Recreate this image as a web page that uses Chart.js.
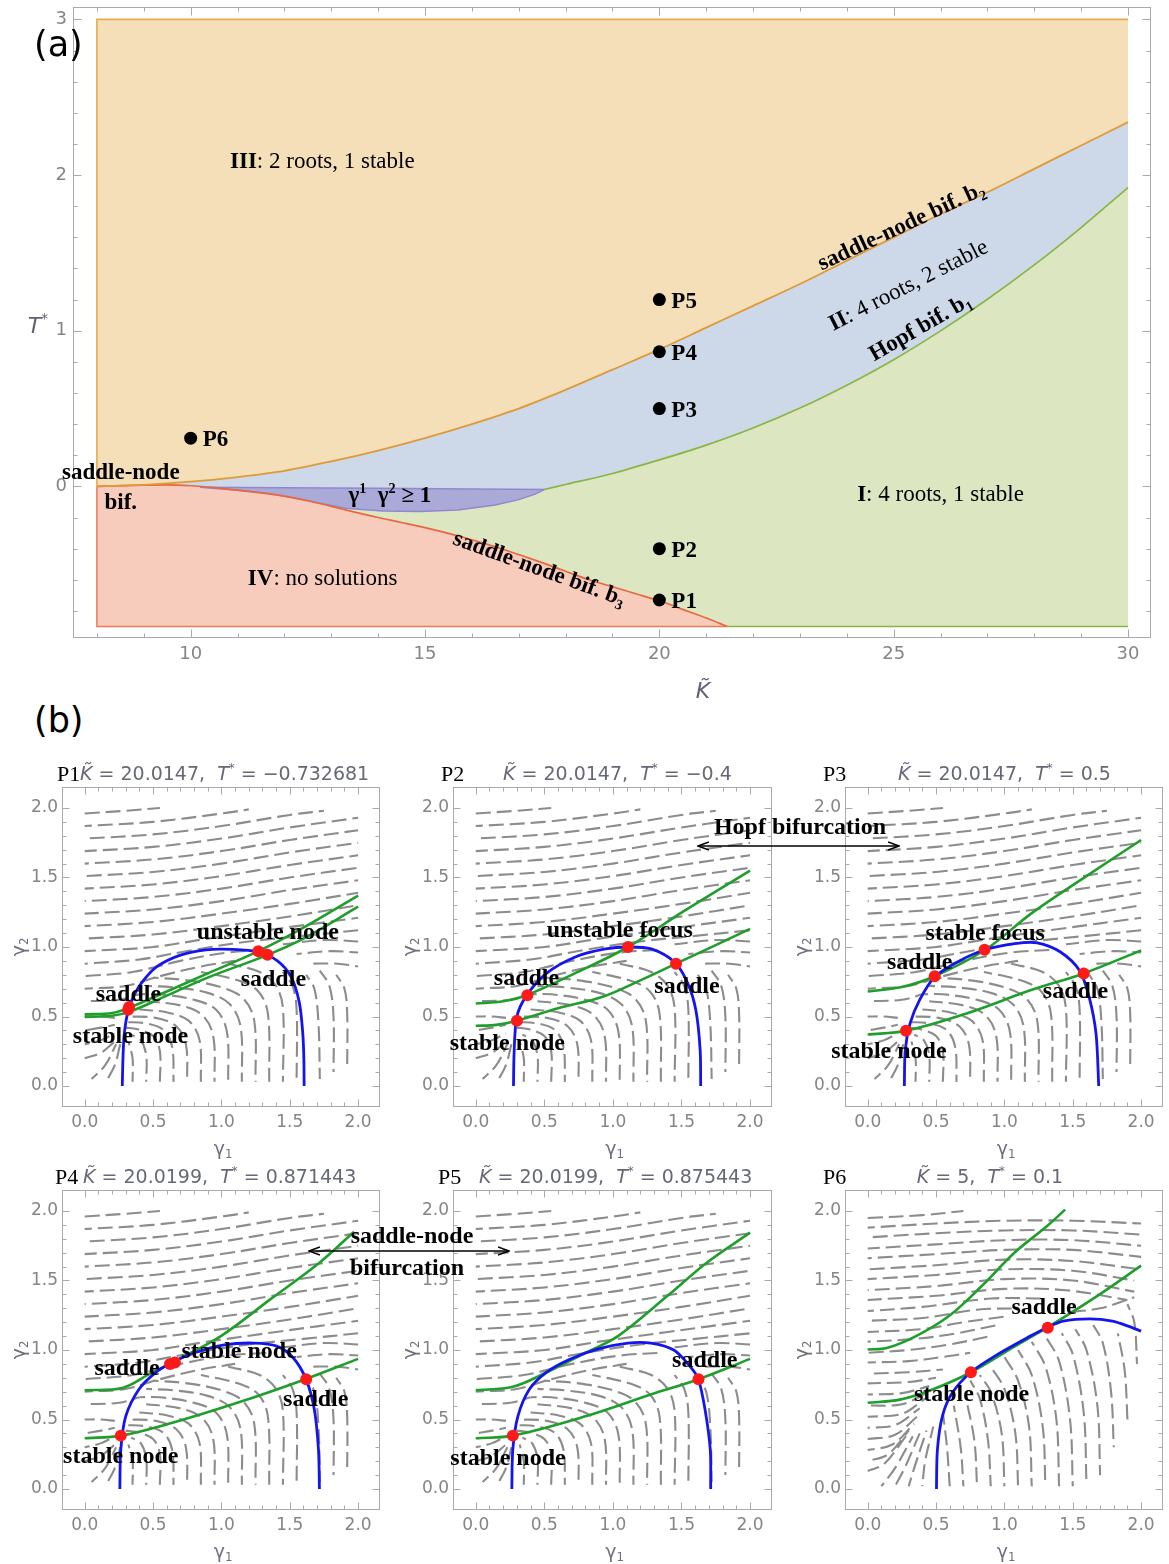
<!DOCTYPE html>
<html><head><meta charset="utf-8">
<script src="https://cdn.jsdelivr.net/npm/chart.js@4/dist/chart.umd.min.js"></script>
<style>
html,body{margin:0;padding:0;background:#fff}
body{width:1169px;height:1564px;position:relative;overflow:hidden}
canvas{position:absolute;display:block}
.plab{position:absolute;font-family:'DejaVu Sans';font-size:35px;color:#000;line-height:1}
</style></head>
<body>
<canvas id="cA"></canvas>
<div class="plab" style="left:34px;top:27px">(a)</div>
<div class="plab" style="left:34px;top:703px">(b)</div>
<canvas id="c1"></canvas><canvas id="c2"></canvas><canvas id="c3"></canvas>
<canvas id="c4"></canvas><canvas id="c5"></canvas><canvas id="c6"></canvas>
<svg width="1169" height="1564" style="position:absolute;left:0;top:0;pointer-events:none">
<defs><marker id="ah" markerWidth="12" markerHeight="10" refX="11" refY="5" orient="auto-start-reverse" markerUnits="userSpaceOnUse"><path d="M0,1 L11,5 L0,9" fill="none" stroke="#000" stroke-width="1.4"/></marker></defs>
<line x1="698" y1="846" x2="899" y2="846" stroke="#000" stroke-width="1.5" marker-start="url(#ah)" marker-end="url(#ah)"/>
<text x="800" y="834" text-anchor="middle" font-family="Liberation Serif" font-weight="bold" font-size="24">Hopf bifurcation</text>
<line x1="309" y1="1251" x2="509" y2="1251" stroke="#000" stroke-width="1.5" marker-start="url(#ah)" marker-end="url(#ah)"/>
<text x="412" y="1243" text-anchor="middle" font-family="Liberation Serif" font-weight="bold" font-size="24">saddle-node</text>
<text x="407" y="1275" text-anchor="middle" font-family="Liberation Serif" font-weight="bold" font-size="24">bifurcation</text>
</svg>
<script>
// ================= Panel (a) data =================
const K_MIN = 8, K_MAX = 30, T_TOP = 3, T_BOTTOM = -0.9;
const kTicks = [10, 15, 20, 25, 30];
const tTicks = [0, 1, 2, 3];
// saddle-node bifurcation b2 (upper)
const b2K = [8, 9, 10, 11, 12, 13, 14, 15, 16, 17, 18, 19, 20, 21, 22, 23, 24, 25, 26, 27, 28, 29, 30];
const b2T = [0, 0.01, 0.03, 0.06, 0.1, 0.16, 0.23, 0.31, 0.4, 0.5, 0.62, 0.75, 0.88, 1.02, 1.16, 1.3, 1.45, 1.6, 1.75, 1.89, 2.04, 2.19, 2.34];
// saddle-node bifurcation b3 (lower)
const b3K = [8, 9, 9.5, 10, 10.5, 11, 11.5, 12, 12.5, 13, 13.5, 14, 14.5, 15, 15.5, 16, 16.5, 17, 17.5, 18, 18.5, 19, 19.5, 20, 20.5, 21, 21.45];
const b3T = [0, 0.008, 0.01, 0.004, -0.008, -0.024, -0.042, -0.062, -0.092, -0.128, -0.165, -0.2, -0.232, -0.265, -0.302, -0.343, -0.388, -0.438, -0.49, -0.545, -0.6, -0.645, -0.69, -0.735, -0.79, -0.845, -0.9];
// Hopf bifurcation b1
const b1K = [17.55, 18, 19, 20, 21, 22, 23, 24, 25, 26, 27, 28, 29, 30];
const b1T = [-0.02, 0.012, 0.083, 0.17, 0.265, 0.375, 0.503, 0.65, 0.814, 0.999, 1.202, 1.423, 1.663, 1.92];
// gamma1*gamma2 >= 1 region
const gTopK = [10.2, 12, 14, 16, 17.55];
const gTopT = [-0.005, -0.008, -0.012, -0.016, -0.02];
const gBotK = [10.2, 11, 11.6, 12.4, 13.3, 14.1, 14.9, 15.7, 16.5, 17.0, 17.35, 17.55];
const gBotT = [-0.005, -0.025, -0.043, -0.085, -0.14, -0.158, -0.162, -0.152, -0.12, -0.085, -0.05, -0.02];
// marked parameter points
const pointNames = ['P1', 'P2', 'P3', 'P4', 'P5', 'P6'];
const pointK = [20, 20, 20, 20, 20, 10];
const pointT = [-0.73, -0.4, 0.5, 0.865, 1.2, 0.31];

// ================= Panel (b) data =================
const gTicks = [0, 0.5, 1, 1.5, 2];
const subNames = ['P1', 'P2', 'P3', 'P4', 'P5', 'P6'];
const subK = ['20.0147', '20.0147', '20.0147', '20.0199', '20.0199', '5'];
const subT = ['\u22120.732681', '\u22120.4', '0.5', '0.871443', '0.875443', '0.1'];

const blueP1 = [[0.275,0],[0.28,0.2],[0.29,0.38],[0.32,0.55],[0.37,0.67],[0.43,0.76],[0.53,0.86],[0.695,0.94],[0.886,0.98],[1.08,0.983],[1.27,0.964],[1.41,0.9],[1.51,0.785],[1.57,0.6],[1.595,0.38],[1.603,0.2],[1.605,0]];
const greenAP1 = [[0,0.515],[0.2,0.525],[0.33,0.565],[0.6,0.68],[0.9,0.81],[1.27,0.97],[1.6,1.14],[2.0,1.37]];
const greenBP1 = [[0,0.497],[0.2,0.505],[0.33,0.535],[0.6,0.65],[0.9,0.78],[1.33,0.94],[1.6,1.06],[2.0,1.29]];
const redP1 = [[0.318,0.548],[0.325,0.568],[1.27,0.97],[1.337,0.945]];

const blueP2 = [[0.275,0],[0.28,0.25],[0.3,0.5],[0.37,0.65],[0.515,0.81],[0.73,0.93],[0.946,0.986],[1.11,1.0],[1.28,0.986],[1.45,0.89],[1.545,0.74],[1.605,0.545],[1.636,0.26],[1.64,0]];
const greenAP2 = [[0,0.593],[0.2,0.61],[0.37,0.653],[0.7,0.8],[1.11,1.0],[1.52,1.26],[2.0,1.55]];
const greenBP2 = [[0,0.433],[0.15,0.44],[0.3,0.47],[0.6,0.56],[0.92,0.64],[1.2,0.76],[1.46,0.88],[2.0,1.13]];
const redP2 = [[0.3,0.47],[0.376,0.653],[1.11,1.0],[1.46,0.88]];

const blueP3 = [[0.268,0],[0.275,0.26],[0.31,0.45],[0.38,0.62],[0.49,0.785],[0.67,0.9],[0.86,0.98],[1.075,1.024],[1.24,1.03],[1.41,0.964],[1.55,0.83],[1.62,0.64],[1.67,0.378],[1.69,0]];
const greenAP3 = [[0,0.68],[0.24,0.71],[0.49,0.79],[0.86,0.98],[1.195,1.24],[1.6,1.51],[2.0,1.77]];
const greenBP3 = [[0,0.37],[0.28,0.397],[0.717,0.52],[1.195,0.69],[1.58,0.81],[2.0,0.976]];
const redP3 = [[0.28,0.397],[0.49,0.79],[0.855,0.98],[1.58,0.81]];

const blueP4 = [[0.257,0],[0.264,0.283],[0.3,0.523],[0.396,0.716],[0.516,0.836],[0.636,0.908],[0.804,0.98],[1.02,1.037],[1.236,1.05],[1.405,1.028],[1.525,0.944],[1.62,0.787],[1.68,0.57],[1.71,0.283],[1.717,0]];
const greenAP4 = [[0,0.711],[0.276,0.727],[0.468,0.824],[0.636,0.908],[0.996,1.1],[1.357,1.364],[1.717,1.628],[1.97,1.85]];
const greenBP4 = [[0,0.365],[0.264,0.384],[0.636,0.475],[1.116,0.62],[1.62,0.792],[2.0,0.936]];
const redP4 = [[0.264,0.384],[0.624,0.9],[0.66,0.91],[1.62,0.79]];

const blueP5 = [[0.263,0],[0.27,0.283],[0.307,0.523],[0.39,0.716],[0.51,0.836],[0.678,0.93],[0.893,1.008],[1.11,1.05],[1.277,1.05],[1.444,1.0],[1.564,0.88],[1.624,0.787],[1.672,0.57],[1.71,0.283],[1.713,0]];
const greenAP5 = [[0,0.711],[0.27,0.735],[0.51,0.836],[0.8,0.98],[1.037,1.1],[1.396,1.388],[1.684,1.628],[2.0,1.844]];
const greenBP5 = [[0,0.365],[0.27,0.384],[0.8,0.523],[1.277,0.68],[1.624,0.79],[2.0,0.936]];
const redP5 = [[0.27,0.384],[1.624,0.79]];

const blueP6 = [[0.503,0],[0.51,0.283],[0.546,0.523],[0.618,0.69],[0.755,0.84],[0.953,0.97],[1.19,1.1],[1.317,1.164],[1.43,1.208],[1.624,1.224],[1.79,1.208],[1.91,1.17],[2.0,1.136]];
const greenAP6 = [[0,1.004],[0.139,1.014],[0.354,1.1],[0.594,1.244],[0.834,1.46],[1.073,1.7],[1.31,1.89],[1.444,2.01]];
const greenBP6 = [[0,0.62],[0.235,0.643],[0.474,0.716],[0.755,0.84],[1.073,1.025],[1.317,1.164],[1.672,1.384],[2.0,1.607]];
const redP6 = [[0.755,0.84],[1.317,1.16]];

const streamsA = [
 [[0,1.96],[0.3,1.98],[0.55,2.0]],
 [[0,1.87],[0.5,1.9],[1.0,1.96],[1.2,1.99]],
 [[0,1.78],[0.5,1.81],[1.0,1.87],[1.5,1.95],[1.75,1.98]],
 [[0,1.69],[0.5,1.72],[1.0,1.78],[1.5,1.86],[2.0,1.93]],
 [[0,1.60],[0.5,1.63],[1.0,1.69],[1.5,1.77],[2.0,1.84]],
 [[0,1.51],[0.5,1.54],[1.0,1.6],[1.5,1.68],[2.0,1.75]],
 [[0,1.42],[0.5,1.45],[1.0,1.51],[1.5,1.59],[2.0,1.66]],
 [[0,1.33],[0.5,1.36],[1.0,1.42],[1.5,1.5],[2.0,1.57]],
 [[0,1.24],[0.5,1.27],[1.0,1.33],[1.5,1.41],[2.0,1.48]],
 [[0,1.15],[0.5,1.18],[1.0,1.24],[1.5,1.31],[2.0,1.39]],
 [[0,1.06],[0.5,1.09],[1.0,1.15],[1.5,1.22],[2.0,1.3]],
 [[0,0.97],[0.5,1.0],[0.9,1.06],[1.4,1.13],[2.0,1.21]],
 [[0,0.88],[0.4,0.91],[0.8,0.98],[1.2,1.04],[1.6,1.08],[2.0,1.12]],
 [[0,0.79],[0.35,0.82],[0.7,0.9],[1.05,0.96],[1.35,0.98]],
 [[0,0.70],[0.3,0.72],[0.55,0.79],[0.85,0.86],[1.1,0.9]],
 [[0,0.61],[0.25,0.62],[0.4,0.66]],
 [[1.45,1.02],[1.75,1.05],[2.0,1.04]],
 [[1.55,0.95],[1.8,0.97],[2.0,0.96]],
 [[1.65,0.88],[1.85,0.88],[2.0,0.86]],
 [[0.35,0.03],[0.35,0.2],[0.32,0.32]],
 [[0.45,0.03],[0.45,0.22],[0.41,0.33],[0.34,0.37]],
 [[0.55,0.03],[0.55,0.25],[0.5,0.36],[0.38,0.41],[0.3,0.42]],
 [[0.65,0.03],[0.64,0.28],[0.58,0.4],[0.45,0.45],[0.3,0.46]],
 [[0.75,0.03],[0.74,0.3],[0.67,0.43],[0.52,0.49],[0.32,0.5]],
 [[0.85,0.03],[0.84,0.33],[0.76,0.47],[0.6,0.53],[0.4,0.55]],
 [[0.95,0.03],[0.94,0.36],[0.86,0.51],[0.7,0.58],[0.45,0.61]],
 [[1.05,0.03],[1.04,0.39],[0.96,0.55],[0.8,0.62],[0.55,0.66],[0.4,0.66]],
 [[1.15,0.03],[1.14,0.43],[1.06,0.59],[0.9,0.67],[0.65,0.71],[0.45,0.72]],
 [[1.25,0.03],[1.24,0.47],[1.16,0.63],[1.0,0.71],[0.75,0.76],[0.5,0.78]],
 [[1.35,0.03],[1.34,0.52],[1.27,0.68],[1.12,0.76],[0.85,0.82]],
 [[1.45,0.03],[1.45,0.56],[1.4,0.72],[1.28,0.82],[1.05,0.88]],
 [[1.55,0.03],[1.55,0.55],[1.52,0.72],[1.45,0.82]],
 [[1.72,0.05],[1.71,0.45],[1.68,0.7],[1.62,0.8]],
 [[1.82,0.1],[1.82,0.5],[1.79,0.72],[1.72,0.83]],
 [[1.92,0.15],[1.92,0.52],[1.9,0.7],[1.84,0.8]],
 [[0.05,0.05],[0.15,0.15],[0.23,0.3]],
 [[0.15,0.02],[0.22,0.15],[0.26,0.3]],
 [[0,0.2],[0.12,0.24],[0.22,0.32]],
 [[0,0.3],[0.12,0.33],[0.22,0.38]],
 [[0,0.4],[0.12,0.42],[0.22,0.44]],
 [[0,0.5],[0.12,0.5],[0.22,0.49]]
];
const streamsB = [
 [[0,1.95],[0.4,1.97],[0.7,2.0]],
 [[0,1.88],[0.5,1.91],[1.0,1.93],[1.5,1.93],[2.0,1.91]],
 [[0,1.81],[0.5,1.84],[1.0,1.86],[1.5,1.86],[2.0,1.83]],
 [[0,1.73],[0.5,1.76],[1.0,1.79],[1.5,1.79],[2.0,1.75]],
 [[0,1.66],[0.5,1.69],[1.0,1.72],[1.5,1.72],[2.0,1.67]],
 [[0,1.58],[0.5,1.61],[1.0,1.65],[1.5,1.64],[2.0,1.58]],
 [[0,1.51],[0.5,1.54],[1.0,1.58],[1.5,1.57],[1.95,1.5]],
 [[0,1.43],[0.5,1.46],[1.0,1.51],[1.5,1.5],[1.95,1.42]],
 [[0,1.36],[0.5,1.39],[1.0,1.44],[1.45,1.43],[1.9,1.36]],
 [[0,1.28],[0.4,1.31],[0.9,1.37],[1.3,1.37]],
 [[0,1.21],[0.4,1.23],[0.8,1.29],[1.1,1.3]],
 [[0,1.13],[0.4,1.15],[0.7,1.2],[1.0,1.24]],
 [[0,1.06],[0.35,1.08],[0.65,1.12],[0.95,1.18]],
 [[0,0.98],[0.3,1.0],[0.6,1.04],[0.9,1.1]],
 [[0,0.91],[0.3,0.92],[0.55,0.95],[0.75,0.98]],
 [[0,0.83],[0.3,0.84],[0.55,0.86]],
 [[0,0.76],[0.3,0.77],[0.5,0.8]],
 [[0,0.68],[0.25,0.69],[0.45,0.74]],
 [[0,0.6],[0.25,0.61],[0.45,0.7]],
 [[0,0.52],[0.25,0.54],[0.42,0.65]],
 [[0,0.44],[0.2,0.46],[0.38,0.58]],
 [[0,0.36],[0.2,0.39],[0.36,0.52]],
 [[0,0.28],[0.18,0.32],[0.34,0.47]],
 [[0,0.2],[0.15,0.25],[0.3,0.42]],
 [[0,0.13],[0.12,0.18],[0.28,0.38]],
 [[0.1,0.02],[0.2,0.15],[0.33,0.38]],
 [[0.2,0.02],[0.27,0.15],[0.38,0.4]],
 [[0.3,0.02],[0.34,0.15],[0.43,0.42]],
 [[0.4,0.02],[0.42,0.2],[0.48,0.45]],
 [[0.6,0.02],[0.58,0.3],[0.55,0.55]],
 [[0.7,0.02],[0.68,0.3],[0.63,0.6]],
 [[0.8,0.02],[0.78,0.35],[0.72,0.65]],
 [[0.9,0.02],[0.88,0.35],[0.82,0.65],[0.75,0.78]],
 [[1.0,0.02],[0.98,0.4],[0.9,0.7],[0.82,0.82]],
 [[1.1,0.02],[1.08,0.4],[1.0,0.72],[0.9,0.88]],
 [[1.2,0.02],[1.18,0.45],[1.1,0.78],[1.0,0.95]],
 [[1.3,0.02],[1.28,0.45],[1.2,0.82],[1.1,1.0]],
 [[1.4,0.02],[1.38,0.5],[1.3,0.88],[1.2,1.06]],
 [[1.5,0.02],[1.48,0.5],[1.4,0.92],[1.3,1.1]],
 [[1.6,0.05],[1.58,0.55],[1.5,0.97],[1.42,1.12]],
 [[1.7,0.1],[1.68,0.6],[1.6,1.0],[1.52,1.15]],
 [[1.8,0.3],[1.78,0.7],[1.72,1.05],[1.65,1.18]],
 [[1.9,0.5],[1.88,0.85],[1.83,1.12]],
 [[1.97,0.9],[1.95,1.2],[1.9,1.33]],
 [[1.45,1.27],[1.7,1.3],[1.95,1.38]]
];

// node-type labels [text, gamma1, gamma2]
const labelsP1 = [['unstable node',1.34,1.12],['saddle',1.38,0.78],['saddle',0.32,0.67],['stable node',0.335,0.37]];
const labelsP2 = [['unstable focus',1.05,1.13],['saddle',0.37,0.79],['saddle',1.54,0.73],['stable node',0.23,0.32]];
const labelsP3 = [['stable focus',0.86,1.11],['saddle',0.38,0.9],['saddle',1.52,0.69],['stable node',0.155,0.26]];
const labelsP4 = [['saddle',0.31,0.88],['stable node',1.13,1.0],['saddle',1.69,0.655],['stable node',0.264,0.25]];
const labelsP5 = [['saddle',1.67,0.936],['stable node',0.235,0.235]];
const labelsP6 = [['saddle',1.29,1.317],['stable node',0.76,0.695]];

const BLUE = [blueP1, blueP2, blueP3, blueP4, blueP5, blueP6];
const GREENA = [greenAP1, greenAP2, greenAP3, greenAP4, greenAP5, greenAP6];
const GREENB = [greenBP1, greenBP2, greenBP3, greenBP4, greenBP5, greenBP6];
const RED = [redP1, redP2, redP3, redP4, redP5, redP6];
const LABELS = [labelsP1, labelsP2, labelsP3, labelsP4, labelsP5, labelsP6];
const STREAMS = [streamsA, streamsA, streamsA, streamsA, streamsA, streamsB];

// ================= layout (pixels) =================
const FRAMES = [[62,787,384,1107],[453,787,776,1107],[845,787,1167,1107],[62,1190,384,1510],[453,1190,776,1510],[845,1190,1167,1510]];
const TITLE_POS = [[-5,18,'left'],[-12,50,'left'],[-22,53,'left'],[-7,21,'left'],[-15,26,'left'],[-22,145,'center']];

// ================= helpers =================
const SERIF = 'Liberation Serif', SANS = 'DejaVu Sans';
function runFont(r, d) {
  const size = (r.s || d.s) * ((r.sup || r.sub) ? 0.62 : 1);
  return (r.i ? 'italic ' : '') + (r.b ? 'bold ' : '') + size + 'px "' + (r.f || d.f) + '"';
}
function drawRuns(ctx, x, y, runs, d) {
  ctx.save();
  ctx.translate(x, y);
  if (d.rot) ctx.rotate(d.rot * Math.PI / 180);
  let total = 0;
  const ws = runs.map(r => { ctx.font = runFont(r, d); const w = ctx.measureText(r.t).width; total += w; return w; });
  let cx = d.align === 'center' ? -total / 2 : d.align === 'right' ? -total : 0;
  ctx.textBaseline = 'alphabetic';
  runs.forEach((r, i) => {
    ctx.font = runFont(r, d);
    ctx.fillStyle = r.c || d.c;
    const size = r.s || d.s;
    let dy = size * 0.35;
    if (r.sup) dy -= size * 0.42;
    if (r.sub) dy += size * 0.2;
    ctx.fillText(r.t, cx, dy);
    cx += ws[i];
  });
  ctx.restore();
}
function notesPlugin(items) {
  return { id: 'notes', afterDraw(chart) {
    const ctx = chart.ctx, a = chart.chartArea;
    items.forEach(it => {
      let x, y;
      if (it.mode === 'data') { x = chart.scales.x.getPixelForValue(it.x); y = chart.scales.y.getPixelForValue(it.y); }
      else if (it.mode === 'area') { x = a.left + it.x; y = a.top + it.y; }
      else { x = it.x; y = it.y; }
      drawRuns(ctx, x + (it.dx || 0), y + (it.dy || 0), it.runs, { s: it.s, f: it.f, c: it.c || '#000', align: it.align || 'center', rot: it.rot || 0 });
    });
  } };
}
function framePlugin(xMaj, xMin, yMaj, yMin, majLen, minLen) {
  return { id: 'frame', afterDatasetsDraw(chart) {
    const {ctx, chartArea: a, scales: {x, y}} = chart;
    ctx.save();
    ctx.strokeStyle = '#a9a9a9'; ctx.lineWidth = 1;
    const L = Math.round(a.left) + 0.5, R = Math.round(a.right) - 0.5, T = Math.round(a.top) + 0.5, B = Math.round(a.bottom) - 0.5;
    ctx.strokeRect(L, T, R - L, B - T);
    ctx.beginPath();
    const xt = (vals, len) => vals.forEach(v => { const p = Math.round(x.getPixelForValue(v)) + 0.5; ctx.moveTo(p, B); ctx.lineTo(p, B - len); ctx.moveTo(p, T); ctx.lineTo(p, T + len); });
    const yt = (vals, len) => vals.forEach(v => { const p = Math.round(y.getPixelForValue(v)) + 0.5; ctx.moveTo(L, p); ctx.lineTo(L + len, p); ctx.moveTo(R, p); ctx.lineTo(R - len, p); });
    xt(xMaj, majLen); xt(xMin, minLen); yt(yMaj, majLen); yt(yMin, minLen);
    ctx.stroke();
    ctx.restore();
  } };
}
const noPad = s => { s.paddingTop = 0; s.paddingBottom = 0; s.paddingLeft = 0; s.paddingRight = 0; };
const xy = (ks, ts) => ks.map((k, i) => ({ x: k, y: ts[i] }));
const pairs = arr => arr.map(p => ({ x: p[0], y: p[1] }));
const rev = a => a.slice().reverse();

// ================= Panel (a) =================
(function () {
  const cv = document.getElementById('cA');
  cv.width = 1169; cv.height = 700; cv.style.left = '0px'; cv.style.top = '0px';
  const b2 = xy(b2K, b2T), b3 = xy(b3K, b3T), b1 = xy(b1K, b1T), gTop = xy(gTopK, gTopT), gBot = xy(gBotK, gBotT);
  const b3Left = b3.filter(p => p.x <= gTopK[0]);
  const b3Right = b3.filter(p => p.x >= 13.5);
  const gBotRight = gBot.filter(p => p.x >= 13.3);
  const polyIII = b2.concat([{ x: K_MAX, y: T_TOP }, { x: K_MIN, y: T_TOP }]);
  const polyII = b2.concat(rev(b1), rev(gTop), rev(b3Left));
  const polyG = gTop.concat(rev(gBot));
  const polyI = gBotRight.concat(b1.slice(1), [{ x: K_MAX, y: T_BOTTOM }], rev(b3Right));
  const polyIV = b3.concat([{ x: K_MIN, y: T_BOTTOM }]);
  const fillDs = (data, color, order) => ({ data, fill: 'shape', backgroundColor: color, borderWidth: 0, pointRadius: 0, tension: 0, order });
  const lineDs = (data, color, w, smooth) => ({ data, fill: false, borderColor: color, borderWidth: w, pointRadius: 0, tension: 0, cubicInterpolationMode: smooth ? 'monotone' : 'default', order: 10 });
  const datasets = [
    fillDs(polyIII, '#f5dfb9', 60),
    fillDs(polyII, '#cdd8e9', 59),
    fillDs(polyI, '#dce6c1', 58),
    fillDs(polyIV, '#f8ccbd', 57),
    fillDs(polyG, '#aaaad9', 56),
    lineDs([{ x: K_MIN, y: 0 }, { x: K_MIN, y: T_TOP }, { x: K_MAX, y: T_TOP }], '#eaa94c', 1.6),
    lineDs(b2, '#de9a3a', 1.8, true),
    lineDs(b3, '#e9683f', 1.7, true),
    lineDs([{ x: K_MIN, y: 0 }, { x: K_MIN, y: T_BOTTOM }, { x: b3K[b3K.length - 1], y: T_BOTTOM }], '#ee7a55', 1.5),
    lineDs(b1, '#8ab545', 1.7, true),
    lineDs([{ x: b3K[b3K.length - 1], y: T_BOTTOM }, { x: K_MAX, y: T_BOTTOM }], '#8ab545', 1.5),
    lineDs(polyG.concat([polyG[0]]), '#9386cf', 1.5),
    { data: xy(pointK, pointT), showLine: false, pointRadius: 6.5, pointBackgroundColor: '#000', pointBorderWidth: 0, order: 0 }
  ];
  const notes = [
    { mode: 'data', x: 10.84, y: 2.10, align: 'left', s: 23, f: SERIF, runs: [{ t: 'III', b: 1 }, { t: ': 2 roots, 1 stable' }] },
    { mode: 'data', x: 25.3, y: 1.30, rot: -27, s: 23, f: SERIF, runs: [{ t: 'II', b: 1 }, { t: ': 4 roots, 2 stable' }] },
    { mode: 'data', x: 25.15, y: 1.68, rot: -25, s: 23, f: SERIF, runs: [{ t: 'saddle-node bif. b', b: 1 }, { t: '2', b: 1, sub: 1 }] },
    { mode: 'data', x: 25.55, y: 1.03, rot: -30, s: 23, f: SERIF, runs: [{ t: 'Hopf bif. b', b: 1 }, { t: '1', b: 1, sub: 1 }] },
    { mode: 'data', x: 24.22, y: -0.04, align: 'left', s: 23, f: SERIF, runs: [{ t: 'I', b: 1 }, { t: ': 4 roots, 1 stable' }] },
    { mode: 'data', x: 11.22, y: -0.58, align: 'left', s: 23, f: SERIF, runs: [{ t: 'IV', b: 1 }, { t: ': no solutions' }] },
    { mode: 'data', x: 17.45, y: -0.52, rot: 20, s: 23, f: SERIF, runs: [{ t: 'saddle-node bif. b', b: 1 }, { t: '3', b: 1, sub: 1 }] },
    { mode: 'data', x: 8.51, y: 0.096, s: 23, f: SERIF, runs: [{ t: 'saddle-node', b: 1 }] },
    { mode: 'data', x: 8.51, y: -0.096, s: 23, f: SERIF, runs: [{ t: 'bif.', b: 1 }] },
    { mode: 'data', x: 14.25, y: -0.05, s: 23, f: SERIF, runs: [{ t: '\u03b3', b: 1 }, { t: '1', b: 1, sup: 1 }, { t: '  \u03b3', b: 1 }, { t: '2', b: 1, sup: 1 }, { t: ' \u2265 1', b: 1 }] },
    { mode: 'px', x: 38, y: 325, s: 22, f: SANS, c: '#5f6275', runs: [{ t: 'T', i: 1 }, { t: '*', sup: 1 }] },
    { mode: 'px', x: 703, y: 690, s: 22, f: SANS, c: '#5f6275', runs: [{ t: 'K\u0303', i: 1 }] }
  ];
  pointNames.forEach((n, i) => notes.push({ mode: 'data', x: pointK[i], y: pointT[i], dx: 12, align: 'left', s: 23, f: SERIF, runs: [{ t: n, b: 1 }] }));
  const xMinor = [8, 9, 11, 12, 13, 14, 16, 17, 18, 19, 21, 22, 23, 24, 26, 27, 28, 29];
  const yMinor = [];
  for (let v = -0.8; v < 3.0; v += 0.2) { if (Math.abs(v - Math.round(v)) > 0.01) yMinor.push(+v.toFixed(1)); }
  new Chart(cv, {
    type: 'line',
    data: { datasets },
    options: {
      responsive: false, animation: false, devicePixelRatio: 1,
      layout: { padding: { left: 0, right: 18, top: 5, bottom: 0 } },
      plugins: { legend: { display: false }, tooltip: { enabled: false } },
      scales: {
        x: { type: 'linear', min: 7.49, max: 30.49, grid: { display: false, drawTicks: false }, border: { display: false },
             afterBuildTicks: s => { s.ticks = kTicks.map(v => ({ value: v })); }, afterFit: s => { s.height = 62; noPad(s); },
             ticks: { font: { family: SANS, size: 18 }, color: '#858585', padding: 6, maxRotation: 0, autoSkip: false } },
        y: { type: 'linear', min: -0.974, max: 3.083, grid: { display: false, drawTicks: false }, border: { display: false },
             afterBuildTicks: s => { s.ticks = tTicks.map(v => ({ value: v })); }, afterFit: s => { s.width = 73; noPad(s); },
             ticks: { font: { family: SANS, size: 18 }, color: '#858585', padding: 6, autoSkip: false } }
      }
    },
    plugins: [framePlugin(kTicks, xMinor, tTicks, yMinor, 8, 4), notesPlugin(notes)]
  });
})();

// ================= Panel (b) =================
const gMinor = [];
for (let i = 1; i < 20; i++) { if (i % 5 !== 0) gMinor.push(i / 10); }
function makeSub(idx) {
  const [L, T, R, B] = FRAMES[idx];
  const cv = document.getElementById('c' + (idx + 1));
  const left = L - 62, top = T - 45, w = (R - L) + 62 + 2, h = (B - T) + 45 + 55;
  cv.width = w; cv.height = h; cv.style.left = left + 'px'; cv.style.top = top + 'px';
  const datasets = [];
  STREAMS[idx].forEach((sl, i) => datasets.push({ data: pairs(sl), borderColor: '#8c8c8c', borderWidth: 2.1, borderDash: [15, 6], borderDashOffset: (i * 8) % 21, pointRadius: 0, tension: 0.35, fill: false, order: 30 }));
  datasets.push({ data: pairs(GREENA[idx]), borderColor: '#1e9e2a', borderWidth: 2.6, pointRadius: 0, tension: 0.35, fill: false, order: 10 });
  datasets.push({ data: pairs(GREENB[idx]), borderColor: '#1e9e2a', borderWidth: 2.6, pointRadius: 0, tension: 0.35, fill: false, order: 10 });
  datasets.push({ data: pairs(BLUE[idx]), borderColor: '#1414f0', borderWidth: 2.8, pointRadius: 0, tension: 0.3, fill: false, order: 9 });
  datasets.push({ data: pairs(RED[idx]), showLine: false, pointRadius: 6, pointBackgroundColor: '#ff1a1a', pointBorderWidth: 0, order: 0 });
  const [nx, tx, talign] = TITLE_POS[idx];
  const notes = [
    { mode: 'area', x: nx, y: -14, align: 'left', s: 22, f: SERIF, c: '#000', runs: [{ t: subNames[idx] }] },
    { mode: 'area', x: tx, y: -14, align: talign, s: 19, f: SANS, c: '#666877', runs: [{ t: 'K\u0303', i: 1 }, { t: ' = ' + subK[idx] + ',  ' }, { t: 'T', i: 1 }, { t: '*', sup: 1 }, { t: ' = ' + subT[idx] }] },
    { mode: 'area', x: (R - L) / 2, y: (B - T) + 41, s: 19, f: SANS, c: '#6d6f7d', runs: [{ t: '\u03b3' }, { t: '1', sub: 1 }] },
    { mode: 'area', x: -44, y: (B - T) / 2, rot: -90, s: 19, f: SANS, c: '#6d6f7d', runs: [{ t: '\u03b3' }, { t: '2', sub: 1 }] }
  ];
  LABELS[idx].forEach(([t, gx, gy]) => notes.push({ mode: 'data', x: gx, y: gy, s: 24, f: SERIF, c: '#000', runs: [{ t, b: 1 }] }));
  new Chart(cv, {
    type: 'line',
    data: { datasets },
    options: {
      responsive: false, animation: false, devicePixelRatio: 1,
      layout: { padding: { left: 0, right: 2, top: 45, bottom: 0 } },
      plugins: { legend: { display: false }, tooltip: { enabled: false } },
      scales: {
        x: { type: 'linear', min: -0.166, max: 2.16, grid: { display: false, drawTicks: false }, border: { display: false },
             afterBuildTicks: s => { s.ticks = gTicks.map(v => ({ value: v })); }, afterFit: s => { s.height = 55; noPad(s); },
             ticks: { font: { family: SANS, size: 17 }, color: '#858585', padding: 5, maxRotation: 0, autoSkip: false, callback: v => Number(v).toFixed(1) } },
        y: { type: 'linear', min: -0.151, max: 2.151, grid: { display: false, drawTicks: false }, border: { display: false },
             afterBuildTicks: s => { s.ticks = gTicks.map(v => ({ value: v })); }, afterFit: s => { s.width = 62; noPad(s); },
             ticks: { font: { family: SANS, size: 17 }, color: '#858585', padding: 4, autoSkip: false, callback: v => Number(v).toFixed(1) } }
      }
    },
    plugins: [framePlugin(gTicks, gMinor, gTicks, gMinor, 7, 4), notesPlugin(notes)]
  });
}
for (let i = 0; i < 6; i++) makeSub(i);
</script>
</body></html>
